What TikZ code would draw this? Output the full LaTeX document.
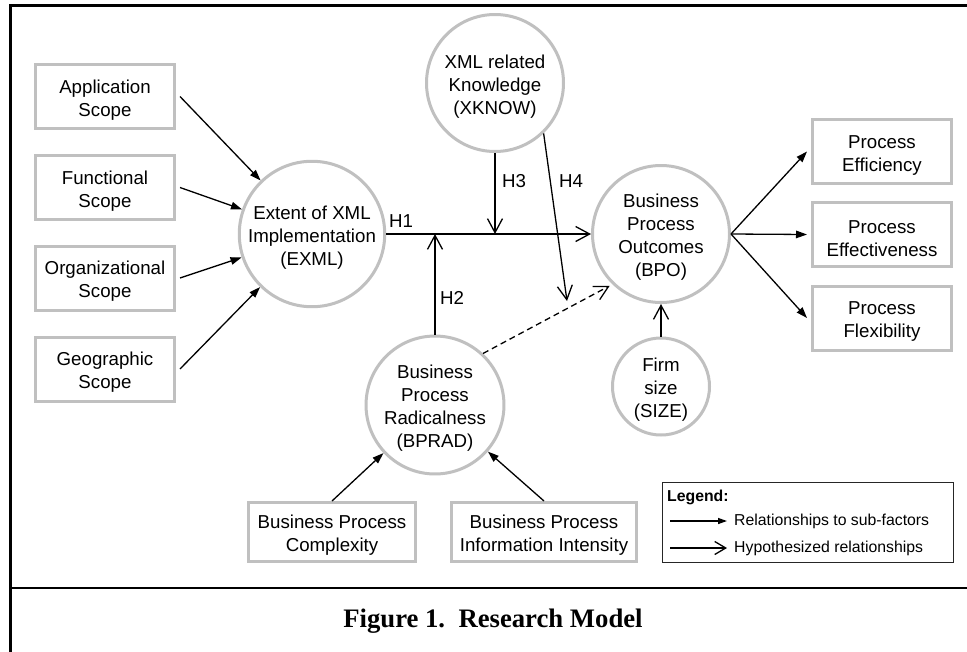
\documentclass[tikz,border=0pt]{standalone}
\usepackage{fontspec}
\setmainfont{Liberation Sans}
\newfontfamily\capfont{Liberation Serif}
\usetikzlibrary{arrows.meta}
\definecolor{boxgray}{RGB}{192,192,192}
\newcommand\myfnt{\fontsize{18.7}{22.9}\selectfont}
\newcommand\legfnt{\fontsize{15.8}{19}\selectfont}
\newcommand\dnstrut{\rule{0pt}{20.5pt}}
\begin{document}
\begin{tikzpicture}[x=1pt,y=-1pt,
  sbox/.style={draw=boxgray,line width=3pt,minimum width=139pt,minimum height=64pt,inner sep=0pt,align=center,font=\myfnt},
  circ/.style={circle,draw=boxgray,line width=3pt,minimum size=137pt,inner sep=0pt,align=center,font=\myfnt},
  sub/.style={-{Triangle[length=11pt,width=7.5pt]},line width=1.3pt},
  hyp/.style={-{Straight Barb[length=14pt,width=15pt]},line width=1.3pt},
  hlab/.style={font=\myfnt,inner sep=0pt}]
\useasboundingbox (0,0) rectangle (967,651);
\fill[white] (0,0) rectangle (967,651);
\draw[line width=2.5pt] (968,5.5) -- (10.5,5.5) -- (10.5,652);
\draw[line width=2.5pt] (10.5,588) -- (968,588);

\node[sbox] (app) at (105,96.5) {\dnstrut Application\\Scope};
\node[sbox] (fun) at (105,187.5) {\dnstrut Functional\\Scope};
\node[sbox] (org) at (105,278) {\dnstrut Organizational\\Scope};
\node[sbox] (geo) at (105,369) {\dnstrut Geographic\\Scope};
\node[circ] (exml) at (312,234) {\dnstrut Extent of XML\\Implementation\\(EXML)};
\node[circ] (xknow) at (495,83) {\dnstrut XML related\\Knowledge\\(XKNOW)};
\node[circ] (bpo) at (661,234) {\dnstrut Business\\Process\\Outcomes\\(BPO)};
\node[circ] (bprad) at (435,405) {\dnstrut Business\\Process\\Radicalness\\(BPRAD)};
\node[circ,minimum size=97pt] (size) at (661,386.5) {\dnstrut Firm\\size\\(SIZE)};
\node[sbox] (eff) at (882,151.5) {\dnstrut Process\\Efficiency};
\node[sbox] (effe) at (882,234.5) {\dnstrut Process\\Effectiveness};
\node[sbox] (flex) at (882,318) {\dnstrut Process\\Flexibility};
\node[sbox,minimum width=167pt,minimum height=59pt] (cplx) at (332,532) {\dnstrut Business Process\\Complexity};
\node[sbox,minimum width=185pt,minimum height=59pt] (info) at (544,532) {\dnstrut Business Process\\Information Intensity};

% sub-factor relationships
\draw[sub] ([xshift=4pt]app.east) -- (exml);
\draw[sub] ([xshift=4pt]fun.east) -- (exml);
\draw[sub] ([xshift=4pt]org.east) -- (exml);
\draw[sub] ([xshift=4pt]geo.east) -- (exml);
\draw[sub] (bpo.east) -- ([xshift=-4pt]eff.west);
\draw[sub] (bpo.east) -- ([xshift=-4pt]effe.west);
\draw[sub] (bpo.east) -- ([xshift=-4pt]flex.west);
\draw[sub] (cplx.north) -- (bprad);
\draw[sub] (info.north) -- (bprad);

% hypothesized relationships
\draw[hyp] (exml.east) -- (bpo.west);
\draw[hyp] (bprad.north) -- (bprad.north |- exml.east);
\draw[hyp] (xknow.south) -- (xknow.south |- exml.east);
\coordinate (h4end) at (567,301);
\draw[hyp] (xknow.-46) -- (h4end);
\draw[hyp,dash pattern=on 6pt off 4pt,shorten >=3pt] (bprad.47) -- (bpo.226);
\draw[hyp] (size.north) -- (bpo.south);

\node[hlab] (lh1) at (401,221) {H1};
\node[hlab] (lh2) at (452,298) {H2};
\node[hlab] (lh3) at (514,181) {H3};
\node[hlab] (lh4) at (571,181) {H4};

% legend
\node[draw=black!85,line width=1pt,minimum width=291pt,minimum height=80pt,inner sep=0pt] (leg) at (808,522.5) {};
\node[anchor=west,font=\legfnt\bfseries,inner sep=0pt] (legt) at (667,497) {Legend:};
\coordinate (l1a) at (670,521);
\coordinate (l1b) at (727,521);
\coordinate (l2a) at (670,548);
\coordinate (l2b) at (727,548);
\draw[-{Triangle[length=9pt,width=6pt]},line width=1.3pt] (l1a) -- (l1b);
\draw[-{Straight Barb[length=11pt,width=13pt]},line width=1.3pt] (l2a) -- (l2b);
\node[anchor=west,font=\legfnt,inner sep=0pt] (l1t) at (734,521) {Relationships to sub-factors};
\node[anchor=west,font=\legfnt,inner sep=0pt] (l2t) at (734,548) {Hypothesized relationships};

% caption
\node[font=\capfont\bfseries\fontsize{26.7}{30}\selectfont,inner sep=0pt] (cap) at (493,621) {Figure 1.\ \ Research Model};
\end{tikzpicture}
\end{document}
